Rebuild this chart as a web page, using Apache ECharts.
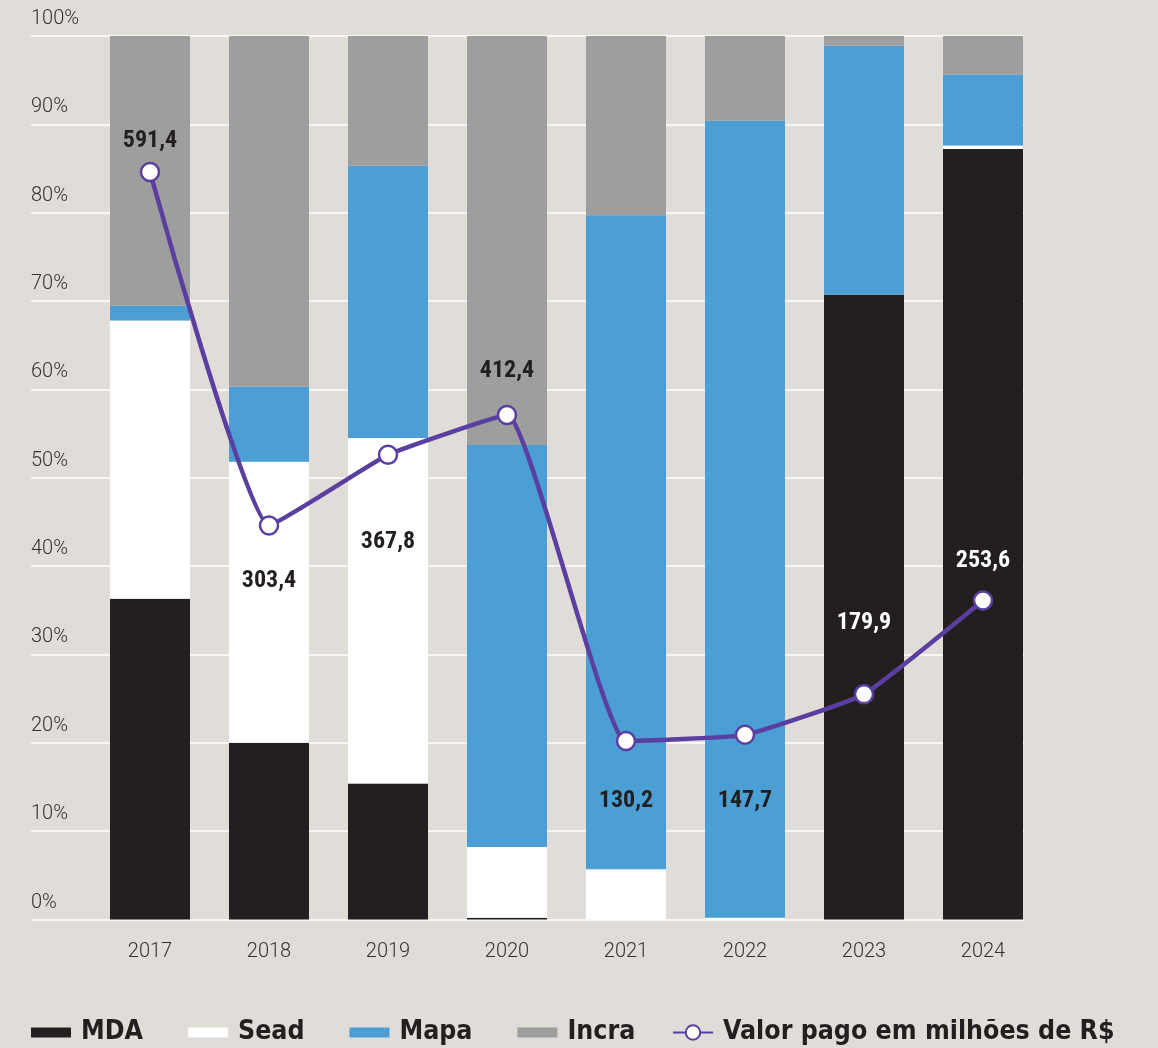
<!DOCTYPE html>
<html>
<head>
<meta charset="utf-8">
<script src="https://cdn.jsdelivr.net/npm/echarts@6/dist/echarts.min.js"></script>
<style>
  html, body { margin: 0; padding: 0; background: #e0dcd7; }
  #chart { width: 1158px; height: 1048px; }
</style>
</head>
<body>
<div id="chart"></div>
<script>
// anos
const categories = ["2017", "2018", "2019", "2020", "2021", "2022", "2023", "2024"];
// participação de cada órgão (%)
const mda = [36.3, 20.0, 15.4, 0.2, 0, 0, 70.7, 87.2];
const sead = [31.5, 31.8, 39.1, 8.0, 5.7, 0.2, 0, 0.4];
const mapa = [1.7, 8.5, 30.8, 45.5, 74.0, 90.2, 28.2, 8.0];
const incra = [30.5, 39.7, 14.7, 46.3, 20.3, 9.6, 1.1, 4.4];
// valor pago (milhões de R$) e altura da linha (escala %)
const valores = [591.4, 303.4, 367.8, 412.4, 130.2, 147.7, 179.9, 253.6];
const linhaPos = [84.6, 44.6, 52.6, 57.1, 20.2, 20.9, 25.5, 36.1];
const yTicks = [0, 10, 20, 30, 40, 50, 60, 70, 80, 90, 100];

// posição dos rótulos da linha (estilo)
const labelPlace = [
  ["top", 8, "#231f20"],
  ["bottom", 32, "#231f20"],
  ["bottom", 64, "#231f20"],
  ["top", 21, "#231f20"],
  ["bottom", 37, "#231f20"],
  ["bottom", 43, "#231f20"],
  ["top", 48, "#ffffff"],
  ["top", 16, "#ffffff"],
];

const purple = "#5b3fa0";
const numFont = "'Roboto Condensed', 'Liberation Sans Narrow', 'DejaVu Sans Condensed', sans-serif";
const legendFont = "'Liberation Sans Narrow', 'DejaVu Sans Condensed', sans-serif";

function barSeries(name, data, color) {
  return {
    name: name,
    type: "bar",
    stack: "total",
    xAxisIndex: 1,
    yAxisIndex: 1,
    barWidth: 80,
    itemStyle: { color: color },
    emphasis: { disabled: true },
    data: data,
  };
}

const lineData = linhaPos.map((v, i) => ({
  value: v,
  label: {
    show: true,
    position: labelPlace[i][0],
    distance: labelPlace[i][1],
    color: labelPlace[i][2],
    formatter: () => valores[i].toFixed(1).replace(".", ","),
  },
}));

const legendText = {
  fontSize: 26.5,
  fontWeight: "bold",
  color: "#231f20",
  fontFamily: legendFont,
  padding: [0, 0, 0, 5],
};

const chart = echarts.init(document.getElementById("chart"));
chart.setOption({
  backgroundColor: "#e0dcd7",
  animation: false,
  grid: [
    { left: 31, right: 134, top: 36, bottom: 128.5 },
    { left: 90.5, right: 115.5, top: 36, bottom: 128.5 },
  ],
  xAxis: [
    { type: "category", gridIndex: 0, show: false, data: categories },
    {
      type: "category",
      gridIndex: 1,
      data: categories,
      axisLine: { show: false },
      axisTick: { show: false },
      axisLabel: {
        margin: 22,
        fontSize: 20,
        color: "#333333",
        fontFamily: "Roboto",
        fontWeight: 300,
      },
    },
  ],
  yAxis: [
    {
      type: "value",
      gridIndex: 0,
      min: yTicks[0],
      max: yTicks[yTicks.length - 1],
      interval: 10,
      axisLine: { show: false },
      axisTick: { show: false },
      splitLine: { lineStyle: { color: "#ffffff", width: 1.5 } },
      axisLabel: {
        inside: true,
        margin: 0,
        align: "left",
        verticalAlign: "bottom",
        padding: [0, 0, 7, 0],
        fontSize: 20,
        color: "#333333",
        fontFamily: "Roboto",
        fontWeight: 300,
        formatter: "{value}%",
      },
    },
    { type: "value", gridIndex: 1, min: 0, max: 100, show: false },
  ],
  legend: [
    {
      left: 26,
      top: 1014,
      itemWidth: 40,
      itemHeight: 10,
      itemGap: 45,
      textStyle: legendText,
      data: [
        { name: "MDA", icon: "rect" },
        { name: "Sead", icon: "rect" },
        { name: "Mapa", icon: "rect" },
        { name: "Incra", icon: "rect" },
      ],
    },
    {
      left: 667,
      top: 1014,
      itemWidth: 40,
      itemHeight: 18,
      textStyle: legendText,
      data: [{ name: "Valor pago em milhões de R$" }],
    },
  ],
  series: [
    barSeries("MDA", mda, "#231f20"),
    barSeries("Sead", sead, "#ffffff"),
    barSeries("Mapa", mapa, "#4b9fd5"),
    barSeries("Incra", incra, "#9e9e9e"),
    {
      name: "Valor pago em milhões de R$",
      type: "line",
      xAxisIndex: 1,
      yAxisIndex: 1,
      smooth: 0.12,
      symbol: "circle",
      symbolSize: 18,
      z: 5,
      lineStyle: { color: purple, width: 4.5 },
      itemStyle: { color: "#ffffff", borderColor: purple, borderWidth: 2.5 },
      label: {
        fontSize: 24,
        fontWeight: "bold",
        fontFamily: numFont,
        lineHeight: 26,
      },
      emphasis: { disabled: true },
      data: lineData,
    },
  ],
});
</script>
</body>
</html>
